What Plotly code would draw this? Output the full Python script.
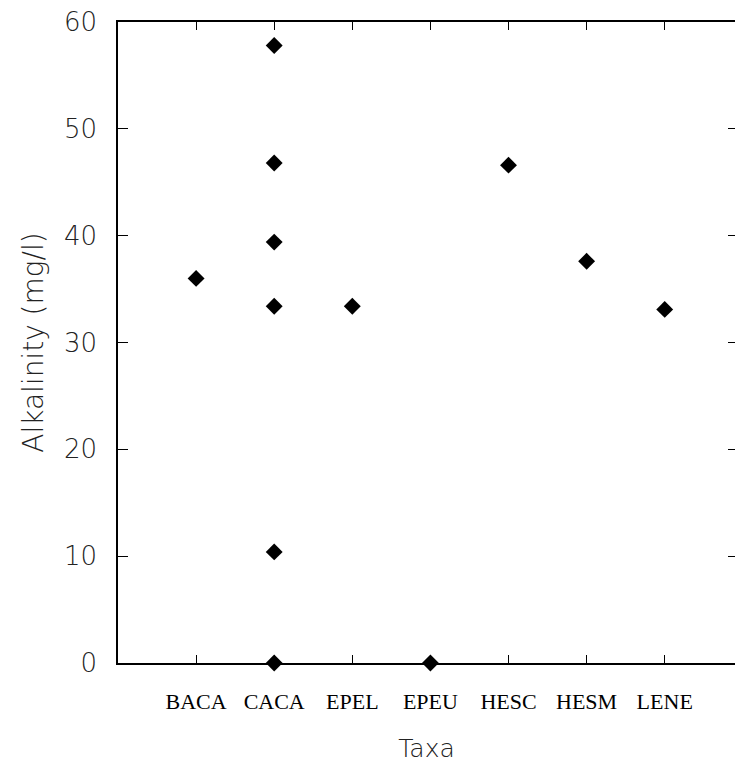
import plotly.graph_objects as go

# Taxon codes along the x axis
taxa = ["BACA", "CACA", "EPEL", "EPEU", "HESC", "HESM", "LENE"]

# Observations: taxon and alkalinity (mg/l)
obs_taxon = ["BACA", "CACA", "CACA", "CACA", "CACA", "CACA", "CACA",
             "EPEL", "EPEU", "HESC", "HESM", "LENE"]
obs_alkalinity = [36.0, 57.8, 46.8, 39.4, 33.4, 10.4, 0.0,
                  33.4, 0.0, 46.6, 37.6, 33.1]

y_ticks = [0, 10, 20, 30, 40, 50, 60]
y_range = [0, 60]

fig = go.Figure()

fig.add_trace(go.Scatter(
    x=obs_taxon,
    y=obs_alkalinity,
    mode="markers",
    marker=dict(symbol="diamond", size=13, color="black", line=dict(width=0)),
    cliponaxis=False,
    showlegend=False,
))

# Transparent copy bound to the right-hand axis so its tick marks are drawn
fig.add_trace(go.Scatter(
    x=obs_taxon,
    y=obs_alkalinity,
    yaxis="y2",
    mode="markers",
    marker=dict(opacity=0),
    hoverinfo="skip",
    showlegend=False,
))

fig.update_layout(
    width=735,
    height=765,
    margin=dict(l=118, r=0, t=22, b=102),
    paper_bgcolor="white",
    plot_bgcolor="white",
    font=dict(family="DejaVu Sans", color="#111"),
)

fig.update_xaxes(
    type="category",
    categoryorder="array",
    categoryarray=taxa,
    range=[-1.0, 6.9],
    showgrid=False,
    zeroline=False,
    showline=True,
    linecolor="black",
    linewidth=1.6,
    mirror="ticks",
    ticks="inside",
    ticklen=8,
    tickwidth=1.2,
    tickcolor="black",
    ticklabelstandoff=18,
    tickfont=dict(family="Liberation Serif", size=22, color="#000"),
    title=dict(text="Taxa", standoff=26,
               font=dict(family="DejaVu Sans", size=25, color="#222", weight=300)),
)

fig.update_layout(
    yaxis=dict(
        range=y_range,
        tickvals=y_ticks,
        ticktext=[str(v) for v in y_ticks],
        showgrid=False,
        zeroline=False,
        showline=True,
        linecolor="black",
        linewidth=1.6,
        mirror=False,
        ticks="inside",
        ticklen=10,
        tickwidth=1.2,
        tickcolor="black",
        ticklabelstandoff=14,
        tickfont=dict(family="DejaVu Sans", size=26, color="#222", weight=200),
        title=dict(text="Alkalinity (mg/l)", standoff=12,
                   font=dict(family="DejaVu Sans", size=28, color="#222", weight=300)),
    ),
    yaxis2=dict(
        overlaying="y",
        side="right",
        range=y_range,
        tickvals=y_ticks,
        showgrid=False,
        zeroline=False,
        showline=False,
        ticks="inside",
        ticklen=7,
        tickwidth=1.4,
        tickcolor="black",
        showticklabels=False,
    ),
)

fig.write_html("out.html")
